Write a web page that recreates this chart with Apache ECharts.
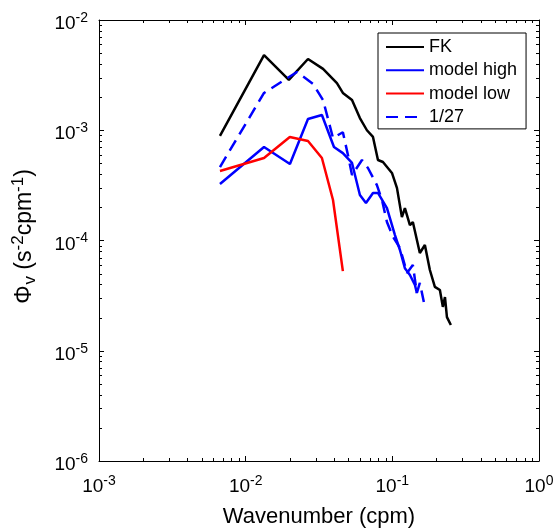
<!DOCTYPE html>
<html>
<head>
<meta charset="utf-8">
<script src="https://cdn.jsdelivr.net/npm/echarts@6/dist/echarts.min.js"></script>
<style>
  html, body { margin: 0; padding: 0; background: #fff; }
  #main { width: 557px; height: 528px; }
</style>
</head>
<body>
<div id="main"></div>
<script>
// FK (black)
const fkX = [0.00668, 0.01334, 0.0197, 0.0266, 0.0337, 0.0419, 0.046, 0.0531, 0.0601, 0.0671, 0.0738,
  0.0798, 0.0863, 0.0994, 0.1075, 0.1162, 0.1218, 0.1318, 0.138, 0.154, 0.1667, 0.1803, 0.195,
  0.211, 0.221, 0.2285, 0.2357, 0.239, 0.2506]
const fkY = [8.9e-4, 4.8e-3, 2.86e-3, 4.43e-3, 3.6e-3, 2.68e-3, 2.18e-3, 1.88e-3, 1.29e-3, 1.0e-3, 8.7e-4,
  5.37e-4, 5.15e-4, 4.1e-4, 3.0e-4, 1.63e-4, 1.97e-4, 1.38e-4, 1.47e-4, 7.7e-5, 9.1e-5, 5.4e-5, 3.8e-5,
  3.56e-5, 2.5e-5, 3.07e-5, 2.02e-5, 2.1e-5, 1.71e-5]
// model high (blue solid)
const highX = [0.00668, 0.01334, 0.02004, 0.0266, 0.0331, 0.04, 0.046, 0.0531, 0.0601, 0.0661, 0.0738,
  0.0798, 0.0919, 0.1042, 0.1127, 0.1218, 0.1318, 0.1426, 0.147]
const highY = [3.25e-4, 7.05e-4, 4.94e-4, 1.265e-3, 1.375e-3, 7.05e-4, 6.2e-4, 5.05e-4, 2.59e-4, 2.19e-4, 2.7e-4,
  2.7e-4, 1.97e-4, 1.12e-4, 8.2e-5, 5.6e-5, 4.87e-5, 3.95e-5, 3.34e-5]
// model low (red)
const lowX = [0.00668, 0.01334, 0.02, 0.0266, 0.0331, 0.0394, 0.046]
const lowY = [4.27e-4, 5.6e-4, 8.7e-4, 7.98e-4, 5.6e-4, 2.33e-4, 5.28e-5]
// 1/27 (blue dashed)
const p27X = [0.00668, 0.01334, 0.0224, 0.0288, 0.0337, 0.0394, 0.046, 0.0498, 0.0531, 0.0621, 0.0682,
  0.0785, 0.085, 0.0919, 0.101, 0.1127, 0.118, 0.1259, 0.138, 0.147, 0.154, 0.164]
const p27Y = [4.64e-4, 2.18e-3, 3.38e-3, 2.63e-3, 1.88e-3, 8.5e-4, 9.6e-4, 5.97e-4, 3.93e-4, 5.37e-4, 4.55e-4,
  3.18e-4, 2.33e-4, 1.47e-4, 1.08e-4, 8.55e-5, 6.9e-5, 5.07e-5, 6.0e-5, 3.34e-5, 4.12e-5, 2.77e-5]

const seriesNames = ['FK', 'model high', 'model low', '1/27']
const decadesX = [0.001, 0.01, 0.1]
const decadesY = [1e-6, 1e-5, 1e-4, 1e-3]
const minorSteps = [2, 3, 4, 5, 6, 7, 8, 9]

const font = 'Liberation Sans, Arial, Helvetica, sans-serif'
const zip = (xs, ys) => xs.map((x, i) => [x, ys[i]])

// 次刻度
let minorX = []
decadesX.forEach(d => minorSteps.forEach(m => minorX.push([d * m, 1e-6, 0])))
let minorY = []
decadesY.forEach(d => minorSteps.forEach(m => minorY.push([0.001, d * m, 1])))

const powLabel = v => {
  let e = Math.round(Math.log10(v))
  return '{b|10}{s|' + e + '}'
}
const labelRich = {
  b: { fontSize: 19, fontFamily: font, color: '#000' },
  s: { fontSize: 14, fontFamily: font, color: '#000', padding: [0, 0, 12, 0] }
}

let chart = echarts.init(document.getElementById('main'))
let option = {
  animation: false,
  backgroundColor: '#fff',
  grid: { left: 99, right: 18, top: 20, bottom: 67, outerBoundsMode: 'none', containLabel: false },
  legend: {
    data: seriesNames,
    orient: 'vertical',
    left: 378,
    top: 33,
    itemWidth: 38,
    itemHeight: 18,
    itemGap: 5.3,
    padding: [5, 9, 3, 7],
    borderColor: '#000',
    borderWidth: 1,
    backgroundColor: '#fff',
    itemStyle: { opacity: 0 },
    textStyle: { fontSize: 18, fontFamily: font, color: '#000' }
  },
  xAxis: [
    {
      type: 'log', logBase: 10, min: 0.001, max: 1,
      name: 'Wavenumber (cpm)', nameLocation: 'middle', nameGap: 45,
      nameTextStyle: { fontSize: 22, fontFamily: font, color: '#000' },
      axisLine: { lineStyle: { color: '#000', width: 1 } },
      axisTick: { inside: true, length: 5, lineStyle: { color: '#000' } },
      axisLabel: { margin: 13, formatter: powLabel, rich: labelRich },
      splitLine: { show: false }
    },
    {
      type: 'log', logBase: 10, min: 0.001, max: 1, position: 'top',
      axisLine: { lineStyle: { color: '#000', width: 1 } },
      axisTick: { inside: true, length: 5, lineStyle: { color: '#000' } },
      axisLabel: { show: false },
      splitLine: { show: false }
    }
  ],
  yAxis: [
    {
      type: 'log', logBase: 10, min: 1e-6, max: 1e-2,
      name: '{a|Φ}{sub|v}{a| (s}{sup|-2}{a|cpm}{sup|-1}{a|)}',
      nameLocation: 'middle', nameGap: 59, nameRotate: 90,
      nameTextStyle: {
        padding: [0, 0, 0, 8],
        rich: {
          a: { fontSize: 23, fontFamily: font, color: '#000' },
          sub: { fontSize: 17, fontFamily: font, color: '#000', padding: [10, 0, 0, 1] },
          sup: { fontSize: 17, fontFamily: font, color: '#000', padding: [0, 0, 13, 0] }
        }
      },
      axisLine: { lineStyle: { color: '#000', width: 1 } },
      axisTick: { inside: true, length: 5, lineStyle: { color: '#000' } },
      axisLabel: { margin: 11, formatter: powLabel, rich: labelRich, padding: [8, 0, 0, 0] },
      splitLine: { show: false }
    },
    {
      type: 'log', logBase: 10, min: 1e-6, max: 1e-2, position: 'right',
      axisLine: { lineStyle: { color: '#000', width: 1 } },
      axisTick: { inside: true, length: 5, lineStyle: { color: '#000' } },
      axisLabel: { show: false },
      splitLine: { show: false }
    }
  ],
  series: [
    {
      name: 'FK', type: 'line', data: zip(fkX, fkY), symbol: 'none',
      lineStyle: { color: '#000', width: 2.5 }, itemStyle: { color: '#000' }, z: 3
    },
    {
      name: 'model high', type: 'line', data: zip(highX, highY), symbol: 'none',
      lineStyle: { color: '#0000ff', width: 2.5 }, itemStyle: { color: '#0000ff' }, z: 3
    },
    {
      name: 'model low', type: 'line', data: zip(lowX, lowY), symbol: 'none',
      lineStyle: { color: '#ff0000', width: 2.5 }, itemStyle: { color: '#ff0000' }, z: 3
    },
    {
      name: '1/27', type: 'line', data: zip(p27X, p27Y), symbol: 'none',
      lineStyle: { color: '#0000ff', width: 2.5, type: [12, 7] }, itemStyle: { color: '#0000ff' }, z: 3
    },
    {
      // 次刻度 (上下, 左右)
      type: 'custom', silent: true, z: 2,
      data: minorX.concat(minorY),
      renderItem(params, api) {
        let kind = api.value(2)
        let len = 3
        let style = { stroke: '#000', lineWidth: 1 }
        if (kind === 0) {
          let b = api.coord([api.value(0), 1e-6])
          let t = api.coord([api.value(0), 1e-2])
          let x = Math.round(b[0]) + 0.5
          return {
            type: 'group', children: [
              { type: 'line', shape: { x1: x, y1: b[1], x2: x, y2: b[1] - len }, style },
              { type: 'line', shape: { x1: x, y1: t[1], x2: x, y2: t[1] + len }, style }
            ]
          }
        }
        let l = api.coord([0.001, api.value(1)])
        let r = api.coord([1, api.value(1)])
        let y = Math.round(l[1]) + 0.5
        return {
          type: 'group', children: [
            { type: 'line', shape: { x1: l[0], y1: y, x2: l[0] + len, y2: y }, style },
            { type: 'line', shape: { x1: r[0], y1: y, x2: r[0] - len, y2: y }, style }
          ]
        }
      }
    }
  ]
}
chart.setOption(option)
</script>
</body>
</html>
